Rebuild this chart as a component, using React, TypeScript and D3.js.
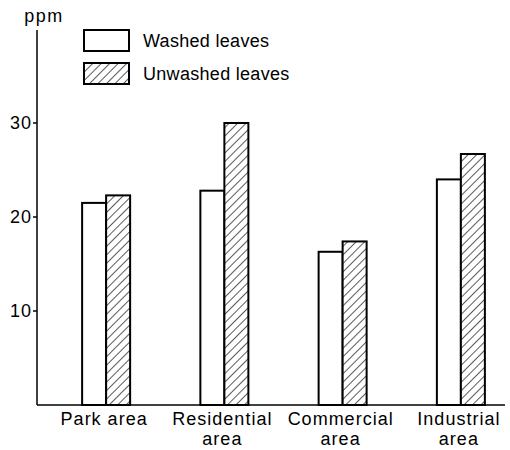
import { useEffect, useRef } from "react";
import * as d3 from "d3";

const categories = ["Park area", "Residential area", "Commercial area", "Industrial area"];
const categoryLines = [["Park area"], ["Residential", "area"], ["Commercial", "area"], ["Industrial", "area"]];
const seriesNames = ["Washed leaves", "Unwashed leaves"];
const washed = [21.5, 22.8, 16.3, 24.0];
const unwashed = [22.3, 30.0, 17.4, 26.7];
const yTicks = [10, 20, 30];

const width = 510;
const height = 450;
const font = "'Liberation Sans', Arial, sans-serif";

const App: React.FC = () => {
  const chartRef = useRef<SVGSVGElement>(null);

  useEffect(() => {
    if (!chartRef.current) return;
    const svg = d3.select(chartRef.current);

    const x = d3.scaleBand<string>().domain(categories).range([47, 520]).padding(0);
    const sub = d3.scaleBand<string>().domain(seriesNames).range([-24, 24]).padding(0);
    const y = d3.scaleLinear().domain([0, 30]).range([405, 123]);

    const defs = svg.append("defs");
    const pat = defs
      .append("pattern")
      .attr("id", "hatch")
      .attr("patternUnits", "userSpaceOnUse")
      .attr("width", 6)
      .attr("height", 6)
      .attr("patternTransform", "rotate(45)");
    pat.append("rect").attr("width", 6).attr("height", 6).attr("fill", "white");
    pat.append("line").attr("x1", 0).attr("y1", 0).attr("x2", 0).attr("y2", 6)
      .attr("stroke", "black").attr("stroke-width", 1.3);

    const fills = ["white", "url(#hatch)"];

    // bars
    const groups = svg
      .selectAll("g.grp")
      .data(categories)
      .enter()
      .append("g")
      .attr("class", "grp")
      .attr("transform", (d) => `translate(${x(d)! + x.bandwidth() / 2},0)`);

    groups
      .selectAll("rect")
      .data((d, i) => [
        { s: seriesNames[0], v: washed[i], f: fills[0] },
        { s: seriesNames[1], v: unwashed[i], f: fills[1] },
      ])
      .enter()
      .append("rect")
      .attr("x", (d) => sub(d.s)!)
      .attr("y", (d) => y(d.v))
      .attr("width", sub.bandwidth())
      .attr("height", (d) => y(0) - y(d.v))
      .attr("fill", (d) => d.f)
      .attr("stroke", "black")
      .attr("stroke-width", 2);

    // axes
    svg.append("line").attr("x1", 37).attr("x2", 37).attr("y1", 30).attr("y2", y(0))
      .attr("stroke", "black").attr("stroke-width", 1.5);
    svg.append("line").attr("x1", 37).attr("x2", 505).attr("y1", y(0)).attr("y2", y(0))
      .attr("stroke", "black").attr("stroke-width", 1.5);

    const ticks = svg.selectAll("g.tick").data(yTicks).enter().append("g")
      .attr("transform", (d) => `translate(37,${y(d)})`);
    ticks.append("line").attr("x1", -4).attr("x2", 0).attr("stroke", "black").attr("stroke-width", 1.5);
    ticks.append("text").attr("x", -5).attr("dy", "0.36em").attr("text-anchor", "end")
      .attr("font-family", font).attr("font-size", 18).attr("letter-spacing", 1).text((d) => d);

    svg.append("text").attr("x", 44).attr("y", 22).attr("text-anchor", "middle")
      .attr("font-family", font).attr("font-size", 18).attr("letter-spacing", 1.5).text("ppm");

    // category labels
    const labels = svg.selectAll("text.cat").data(categories).enter().append("text")
      .attr("class", "cat")
      .attr("text-anchor", "middle")
      .attr("font-family", font).attr("font-size", 18).attr("letter-spacing", 1)
      .attr("transform", (d) => `translate(${x(d)! + x.bandwidth() / 2 - 2},425)`);
    labels.selectAll("tspan").data((d, i) => categoryLines[i]).enter().append("tspan")
      .attr("x", 0).attr("dy", (d, i) => (i === 0 ? 0 : 20)).text((d) => d);

    // legend
    const legend = svg.selectAll("g.leg").data(seriesNames).enter().append("g")
      .attr("transform", (d, i) => `translate(84,${30 + i * 33})`);
    legend.append("rect").attr("width", 45).attr("height", 21)
      .attr("fill", (d, i) => fills[i]).attr("stroke", "black").attr("stroke-width", 2);
    legend.append("text").attr("x", 59).attr("y", 17)
      .attr("font-family", font).attr("font-size", 18).attr("letter-spacing", 0.3).text((d) => d);

    return () => {
      svg.selectAll("*").remove();
    };
  }, []);

  return (
    <svg
      ref={chartRef}
      width={width}
      height={height}
      style={{ position: "absolute", left: 0, top: 0, background: "white" }}
    />
  );
};

export default App;
